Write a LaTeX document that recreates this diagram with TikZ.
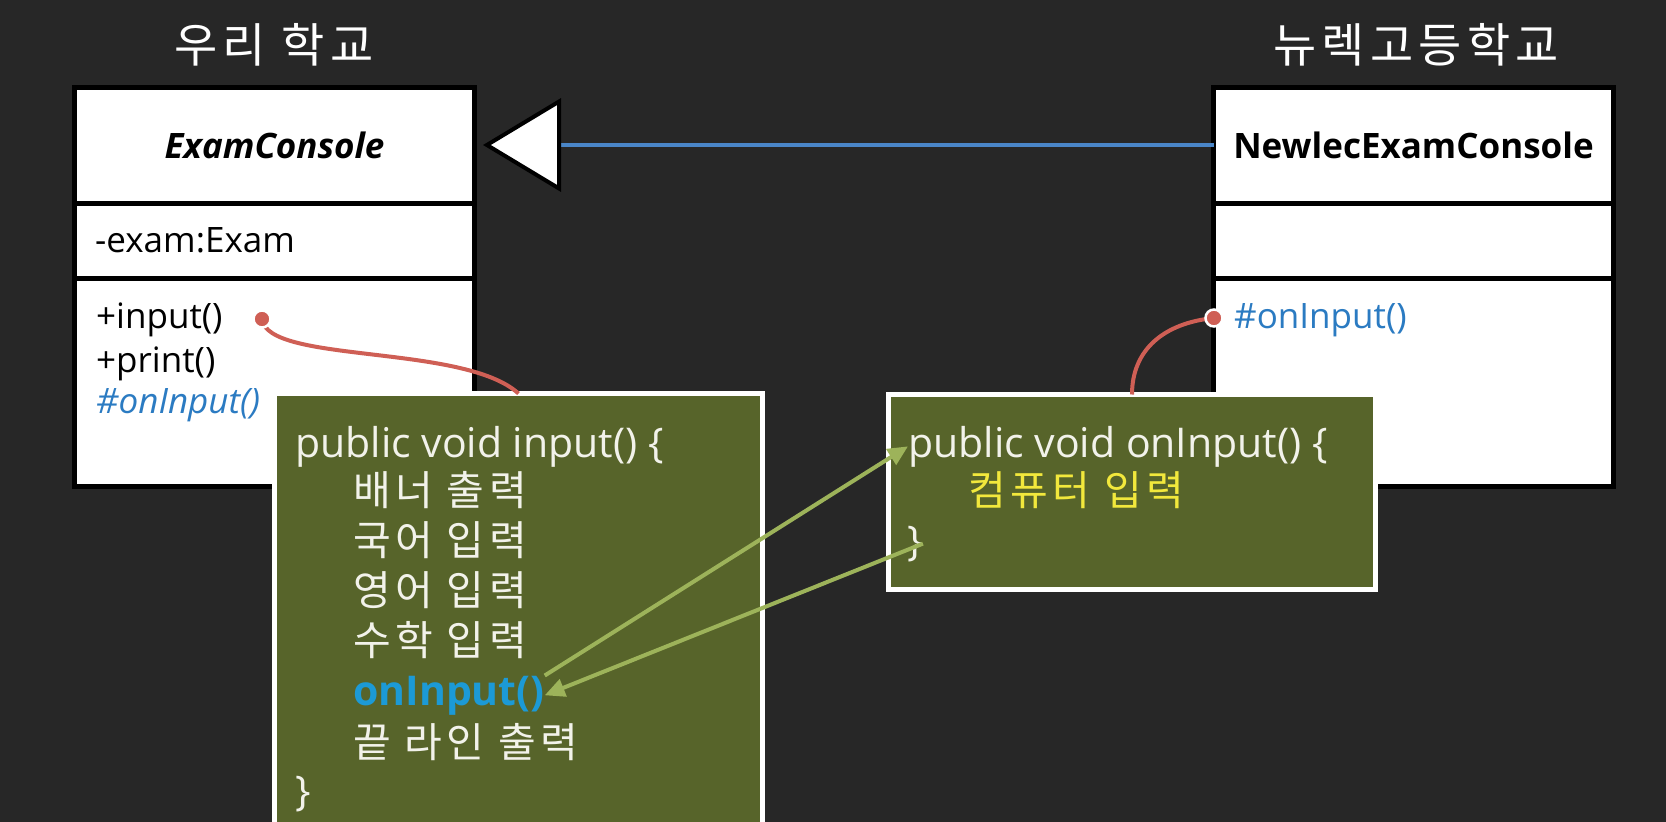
\documentclass[tikz,border=0pt]{standalone}
\usepackage{fontspec}
\setmainfont{Open Sans}
\newfontfamily\krfont{Noto Sans CJK KR}[LetterSpace=11]
\usetikzlibrary{arrows.meta,positioning}

\definecolor{bgdark}{HTML}{272727}
\definecolor{codeolive}{HTML}{57642A}
\definecolor{codewhite}{HTML}{F2F2EA}
\definecolor{linkred}{HTML}{CF5F55}
\definecolor{memberblue}{HTML}{2B7BC2}
\definecolor{callblue}{HTML}{1C9AD6}
\definecolor{callgreen}{HTML}{9DB35A}
\definecolor{inheritblue}{HTML}{4A86C8}
\definecolor{kryellow}{HTML}{F2E83C}

\newcommand{\umlfont}{\fontsize{35}{40}\selectfont}
\newcommand{\codefont}{\fontsize{41}{48}\selectfont}
\newcommand{\titlefont}{\fontsize{47}{54}\selectfont\krfont}

\begin{document}
\begin{tikzpicture}[x=1pt,y=1pt,yscale=-1,
    classbox/.style={draw=black,line width=5pt,fill=white,minimum width=400pt,inner sep=0pt,outer sep=0pt,anchor=north west},
    member/.style={anchor=base west,inner sep=0pt,font=\umlfont,text=black},
    codebox/.style={draw=white,line width=5pt,fill=codeolive,inner sep=0pt,outer sep=0pt,anchor=north west},
    codeline/.style={anchor=base west,inner sep=0pt,font=\codefont,text=codewhite},
    schoolname/.style={font=\titlefont,text=white,inner sep=0pt},
    linkdot/.style={circle,fill=linkred,draw=white,line width=2.5pt,minimum size=17pt,inner sep=0pt},
    linkline/.style={draw=linkred,line width=4pt},
    callarrow/.style={draw=callgreen,line width=4pt,-{Triangle[length=20pt,width=18pt]}},
    inheritline/.style={draw=inheritblue,line width=4pt,-{Triangle[length=78pt,width=93pt,fill=white,color=black]},shorten >=8.5pt}]

    % background and frame
    \fill[bgdark] (0,0) rectangle (1666,822);
    \useasboundingbox (0,0) rectangle (1666,822);

    % school titles
    \node[schoolname] (ourSchool) at (274,45) {우리 학교};
    \node[schoolname] (newSchool) at (1416,45) {뉴렉고등학교};

    % class: ExamConsole
    \node[classbox,minimum height=116pt,font=\umlfont\bfseries\itshape] (examHead) at (74.5,87) {ExamConsole};
    \node[classbox,minimum height=75pt] (examAttr) at (74.5,203) {};
    \node[classbox,minimum height=208pt] (examOps) at (74.5,278) {};
    \node[member] (examField) at (95,252) {-exam:Exam};
    \node[member] (inputOp) at (96,328) {+input()};
    \node[member] (printOp) at (96,372) {+print()};
    \node[member,text=memberblue,font=\umlfont\itshape] (hookOp) at (96,413) {\#onInput()};

    % class: NewlecExamConsole
    \node[classbox,minimum height=116pt,font=\umlfont\bfseries] (newHead) at (1213.5,87) {NewlecExamConsole};
    \node[classbox,minimum height=75pt] (newAttr) at (1213.5,203) {};
    \node[classbox,minimum height=208pt] (newOps) at (1213.5,278) {};
    \node[member,text=memberblue] (newHookOp) at (1234,328) {\#onInput()};

    % inheritance
    \draw[inheritline] (newHead.west) -- (examHead.east);

    % code: input()
    \node[codebox,minimum width=488pt,minimum height=440pt] (inputBody) at (274.5,393.5) {};
    \node[codeline] (inputSig) at (295,457) {public void input() \{};
    \node[codeline,font=\codefont\krfont] (bannerLine) at (353,505) {배너 출력};
    \node[codeline,font=\codefont\krfont] (korLine) at (353,555) {국어 입력};
    \node[codeline,font=\codefont\krfont] (engLine) at (353,605) {영어 입력};
    \node[codeline,font=\codefont\krfont] (mathLine) at (353,655) {수학 입력};
    \node[codeline,text=callblue,font=\codefont\bfseries] (onInputCall) at (353,705) {onInput()};
    \node[codeline,font=\codefont\krfont] (endLine) at (353,757) {끝 라인 출력};
    \node[codeline] (inputEnd) at (295,805) {\}};

    % code: onInput()
    \node[codebox,minimum width=487pt,minimum height=195pt] (onInputBody) at (888.5,394.5) {};
    \node[codeline] (onInputSig) at (908,457) {public void onInput() \{};
    \node[codeline,text=kryellow,font=\codefont\krfont] (pcLine) at (968,505) {컴퓨터 입력};
    \node[codeline] (onInputEnd) at (907,555) {\}};

    % links from members to code
    \coordinate (inputPin) at (262,319);
    \coordinate (newPin) at (1214,318);
    \draw[linkline] (inputPin) .. controls +(5,45) and +(-55,-50) .. (inputBody.north);
    \draw[linkline] (newPin) .. controls +(-50,5) and +(0,-45) .. (onInputBody.north);
    \node[linkdot] (inputDot) at (inputPin) {};
    \node[linkdot] (newDot) at (newPin) {};

    % call and return
    \draw[callarrow] (onInputCall.north east) -- (onInputSig.west);
    \draw[callarrow] (onInputEnd.east) -- (onInputCall.east);
\end{tikzpicture}
\end{document}
